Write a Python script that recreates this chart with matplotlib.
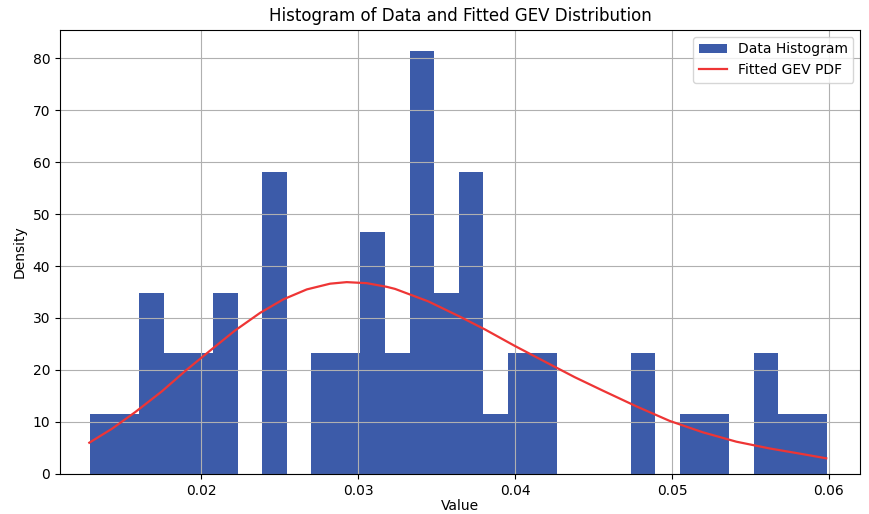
import numpy as np
import matplotlib
matplotlib.use("Agg")
import matplotlib.pyplot as plt

# Histogram data (30 equal bins between data_min and data_max)
data_min = 0.01293
data_max = 0.05989
n_bins = 30
bin_counts = [1, 1, 3, 2, 2, 3, 0, 5, 0, 2,
              2, 4, 2, 7, 3, 5, 1, 2, 2, 0,
              0, 0, 2, 0, 1, 1, 0, 2, 1, 1]

# Fitted GEV PDF curve
curve_x = [0.01287, 0.01432, 0.01580, 0.01750, 0.01898, 0.02068, 0.02216,
           0.02376, 0.02524, 0.02673, 0.02821, 0.02927, 0.03055, 0.03182,
           0.03235, 0.03447, 0.03659, 0.03808, 0.04000, 0.04190, 0.04381,
           0.04561, 0.04773, 0.04985, 0.05197, 0.05410, 0.05622, 0.05834,
           0.05983]
curve_y = [6.0, 8.7, 11.9, 15.9, 19.8, 24.0, 27.6,
           31.0, 33.6, 35.5, 36.6, 36.9, 36.7, 36.0,
           35.6, 33.2, 30.1, 27.8, 24.6, 21.6, 18.6,
           16.0, 13.0, 10.2, 8.0, 6.2, 4.9, 3.8,
           3.0]

x_ticks = [0.02, 0.03, 0.04, 0.05, 0.06]
y_ticks = [0, 10, 20, 30, 40, 50, 60, 70, 80]

edges = np.linspace(data_min, data_max, n_bins + 1)
centers = (edges[:-1] + edges[1:]) / 2

fig = plt.figure(figsize=(8.69, 5.14), dpi=100)
ax = fig.add_axes([0.069, 0.078, 0.921, 0.864])

ax.hist(centers, bins=edges, weights=bin_counts, density=True,
        color='#3c5ba9', label='Data Histogram')
ax.plot(curve_x, curve_y, color='#ee3535', lw=1.6, label='Fitted GEV PDF')

ax.set_xlim(0.0110, 0.0620)
ax.set_ylim(0, 85.45)
ax.set_xticks(x_ticks)
ax.set_xticklabels([f"{v:g}" for v in x_ticks])
ax.set_yticks(y_ticks)
ax.grid(True)
ax.set_title('Histogram of Data and Fitted GEV Distribution', fontsize=12)
ax.set_xlabel('Value', labelpad=1)
ax.set_ylabel('Density')
ax.legend(loc='upper right')

fig.savefig('out.png', dpi=100)
